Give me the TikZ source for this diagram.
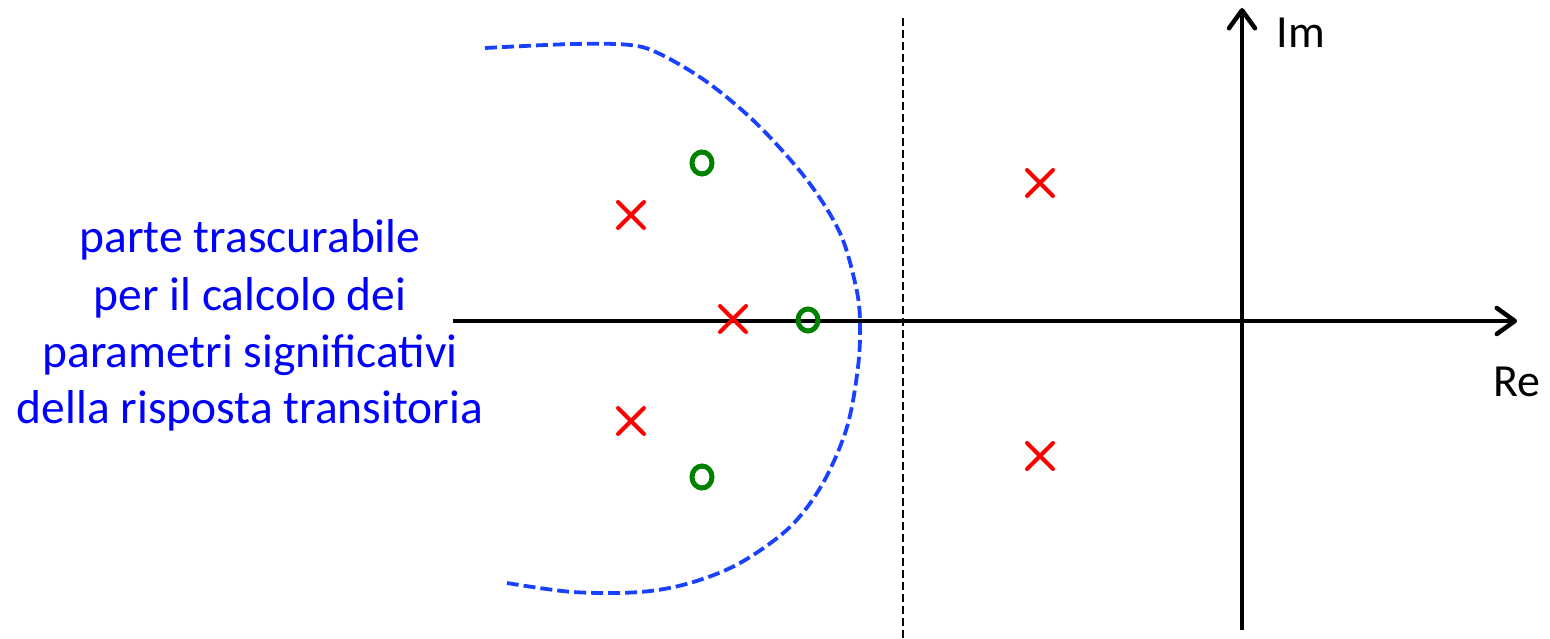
\documentclass[tikz,border=0pt]{standalone}
\usepackage{fontspec}
\setmainfont{Carlito}
\usetikzlibrary{arrows.meta,shapes.misc,shapes.geometric}
\definecolor{curveblue}{RGB}{25,65,255}
\definecolor{txtblue}{RGB}{0,0,255}
\definecolor{zgreen}{RGB}{0,128,0}
\definecolor{pred}{RGB}{255,0,0}
\tikzset{
  axis/.style={line width=4.5pt,-{Straight Barb[length=18pt,width=26pt,round]}},
  pole/.style={cross out,draw=pred,line width=4pt,line cap=round,minimum size=22pt,inner sep=0pt},
  zero/.style={ellipse,draw=zgreen,line width=5pt,minimum width=20pt,minimum height=22pt,inner sep=0pt},
  bluetxt/.style={text=txtblue,font=\fontsize{47.5}{56}\selectfont,anchor=base},
  axlabel/.style={font=\fontsize{46}{55}\selectfont},
  boundary/.style={draw=curveblue,line width=3.8pt,dash pattern=on 12pt off 5pt},
  sep/.style={draw=black,line width=2.6pt,dash pattern=on 8pt off 4pt}
}
\begin{document}
\begin{tikzpicture}[x=1pt,y=-1pt]
\useasboundingbox (0,0) rectangle (1550,639);
% axes
\coordinate (xl) at (453,321);
\coordinate (xr) at (1517,321);
\coordinate (yb) at (1242,630);
\coordinate (yt) at (1242,8);
\draw[axis] (xl) -- (xr);
\draw[axis] (yb) -- (yt);
\node[axlabel] (im) at (1301,33) {Im};
\node[axlabel] (re) at (1517,382) {Re};
% separator
\coordinate (st) at (903,18);
\coordinate (sb) at (903,639);
\draw[sep] (st) -- (sb);
% boundary curve
\draw[boundary] plot[smooth,tension=0.55] coordinates {
 (485,48) (573,44) (630,45) (660,54) (707,82) (757,124) (807,180) (840,233) (856,287) (860,322)
 (858,367) (847,427) (823,483) (790,527) (740,563) (690,583) (640,592) (573,592) (507,583)};
% poles
\node[pole] (p1) at (631,215) {};
\node[pole] (p2) at (733,319) {};
\node[pole] (p3) at (631,421) {};
\node[pole] (p4) at (1040,183) {};
\node[pole] (p5) at (1040,456) {};
% zeros
\node[zero] (z1) at (702,163) {};
\node[zero] (z2) at (808,320) {};
\node[zero] (z3) at (702,477) {};
% text
\node[bluetxt] (t1) at (250,252) {parte trascurabile};
\node[bluetxt] (t2) at (250,310) {per il calcolo dei};
\node[bluetxt] (t3) at (250,367) {parametri significativi};
\node[bluetxt] (t4) at (250,423) {della risposta transitoria};
\end{tikzpicture}
\end{document}
